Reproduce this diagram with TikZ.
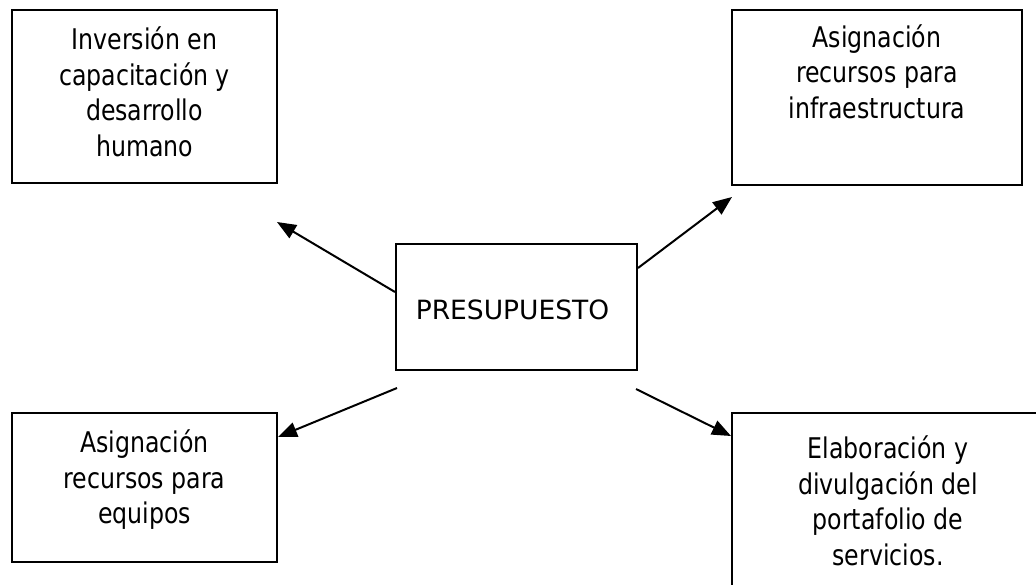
\documentclass[tikz,border=0pt]{standalone}
\usepackage{fontspec}
\setmainfont{DejaVu Sans}[FakeStretch=0.83]
\newfontfamily\capsfont{DejaVu Sans}
\usetikzlibrary{arrows.meta}
\begin{document}
\begin{tikzpicture}[x=1pt,y=-1pt,
  box/.style={draw,line width=2pt,inner sep=0pt},
  txt/.style={align=center,inner sep=0pt,font=\fontsize{28.5}{35.5}\selectfont},
  arr/.style={line width=2pt,-{Triangle[length=19pt,width=15pt]}}]
\useasboundingbox (0,0) rectangle (1036,584);
% boxes
\node[box,minimum width=265pt,minimum height=173pt] (tl) at (144.5,96.5) {};
\node[box,minimum width=290pt,minimum height=175pt] (tr) at (877,97.5) {};
\node[box,minimum width=241pt,minimum height=126pt] (c) at (516.5,307) {};
\node[box,minimum width=265pt,minimum height=149pt] (bl) at (144.5,487.5) {};
\node[box,minimum width=312pt,minimum height=187pt] (br) at (888,506.5) {};
% texts
\node[txt] (tlt) at (144.5,92) {Inversión en\\capacitación y\\desarrollo\\humano};
\node[txt] (trt) at (877,71.5) {Asignación\\recursos para\\infraestructura};
\node[txt,font=\capsfont\fontsize{26.5}{30}\selectfont] (ct) at (512.5,310) {PRESUPUESTO};
\node[txt] (blt) at (144.5,480) {Asignación\\recursos para\\equipos};
\node[txt] (brt) at (888,501) {Elaboración y\\divulgación del\\portafolio de\\servicios.};
% free ends
\coordinate (e1) at (277,222);
\coordinate (e2) at (732,197);
\coordinate (s3) at (397,388);
\coordinate (s4) at (636,389);
% arrows
\draw[arr] ([yshift=15pt]c.west) -- (e1);
\draw[arr] ([yshift=39pt]c.east) -- (e2);
\draw[arr] (s3) -- ([yshift=50.5pt]bl.east);
\draw[arr] (s4) -- ([yshift=70.5pt]br.west);
\end{tikzpicture}
\end{document}
